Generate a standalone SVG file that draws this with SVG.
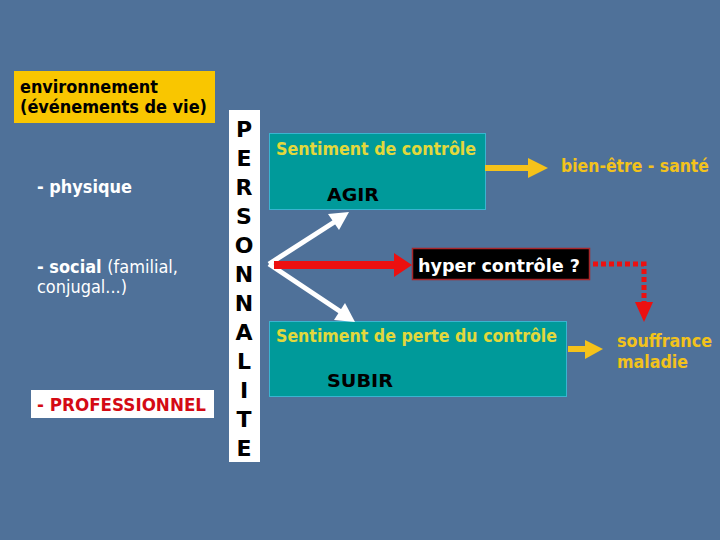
<svg xmlns="http://www.w3.org/2000/svg" width="720" height="540" viewBox="0 0 720 540">
<defs>
<style>
text{font-family:"DejaVu Sans","Liberation Sans",sans-serif;font-weight:bold;}
.blk{fill:#000;font-size:17px;}
.wht{fill:#fff;font-size:17px;}
.yel{fill:#f2c21c;font-size:17px;}
.iny{fill:#e2d83c;font-size:17px;}
.let{fill:#000;font-size:22px;text-anchor:middle;}
.teal{fill:#009a9a;stroke:#3ab4d0;stroke-width:1;}
</style>
</defs>
<rect x="0" y="0" width="720" height="540" fill="#4f7199"/>
<g id="environnement">
<rect x="14" y="71" width="201" height="52" fill="#f9c600"/>
<text class="blk" x="20" y="93" textLength="138" lengthAdjust="spacingAndGlyphs">environnement</text>
<text class="blk" x="20" y="113" textLength="187" lengthAdjust="spacingAndGlyphs">(événements de vie)</text>
</g>
<g id="physique">
<text class="wht" x="37" y="193" textLength="95" lengthAdjust="spacingAndGlyphs">- physique</text>
</g>
<g id="social">
<text class="wht" x="37" y="273" textLength="141" lengthAdjust="spacingAndGlyphs">- social <tspan font-weight="normal" style="font-weight:normal">(familial,</tspan></text>
<text class="wht" x="37" y="293" style="font-weight:normal" textLength="90" lengthAdjust="spacingAndGlyphs">conjugal...)</text>
</g>
<g id="professionnel">
<rect x="31" y="390" width="183" height="28" fill="#fff"/>
<text x="37" y="411" fill="#d40a14" font-size="17" textLength="169" lengthAdjust="spacingAndGlyphs">- PROFESSIONNEL</text>
</g>
<g id="personnalite">
<rect x="229" y="110" width="31" height="352" fill="#fff"/>
<text class="let" x="244" y="137">P</text>
<text class="let" x="244" y="166">E</text>
<text class="let" x="244" y="195">R</text>
<text class="let" x="244" y="224">S</text>
<text class="let" x="244" y="253">O</text>
<text class="let" x="244" y="282">N</text>
<text class="let" x="244" y="311">N</text>
<text class="let" x="244" y="340">A</text>
<text class="let" x="244" y="369">L</text>
<text class="let" x="244" y="398">I</text>
<text class="let" x="244" y="427">T</text>
<text class="let" x="244" y="456">E</text>
</g>
<g id="controle">
<rect class="teal" x="269.5" y="133.5" width="216" height="76"/>
<text class="iny" x="276" y="155" textLength="200" lengthAdjust="spacingAndGlyphs">Sentiment de contrôle</text>
<text class="blk" x="327" y="201" textLength="52" lengthAdjust="spacingAndGlyphs">AGIR</text>
</g>
<g id="perte">
<rect class="teal" x="269.5" y="321.5" width="297" height="75"/>
<text class="iny" x="276" y="342" textLength="281" lengthAdjust="spacingAndGlyphs">Sentiment de perte du contrôle</text>
<text class="blk" x="327" y="387" textLength="66" lengthAdjust="spacingAndGlyphs">SUBIR</text>
</g>
<g id="hyper">
<rect x="412.5" y="248.5" width="177" height="31" fill="#000" stroke="#a8262a" stroke-width="1.5"/>
<text class="wht" x="418" y="272" style="font-size:18px" textLength="162" lengthAdjust="spacingAndGlyphs">hyper contrôle ?</text>
</g>
<g id="bienetre">
<text class="yel" x="561" y="172" textLength="148" lengthAdjust="spacingAndGlyphs">bien-être - santé</text>
</g>
<g id="souffrance">
<text class="yel" x="617" y="347" textLength="95" lengthAdjust="spacingAndGlyphs">souffrance</text>
<text class="yel" x="617" y="368" textLength="71" lengthAdjust="spacingAndGlyphs">maladie</text>
</g>
<g id="connectors">
<line x1="269" y1="264" x2="336" y2="221" stroke="#fff" stroke-width="5"/>
<polygon points="349,212 328,214 339,230" fill="#fff"/>
<line x1="269" y1="264" x2="341" y2="312" stroke="#fff" stroke-width="5"/>
<polygon points="355,322 334,320 345,303" fill="#fff"/>
<line x1="274" y1="265" x2="396" y2="265" stroke="#ec1010" stroke-width="8"/>
<polygon points="394,253 412,265 394,277" fill="#ec1010"/>
<line x1="485" y1="168" x2="530" y2="168" stroke="#f5c21a" stroke-width="6"/>
<polygon points="528,158 548,168 528,178" fill="#f5c21a"/>
<line x1="568" y1="349" x2="587" y2="349" stroke="#f5c21a" stroke-width="6"/>
<polygon points="585,340 603,349 585,359" fill="#f5c21a"/>
<polyline points="593,264 644,264 644,302" fill="none" stroke="#ec1010" stroke-width="5" stroke-dasharray="5,3"/>
<polygon points="635,302 653,302 644,322" fill="#ec1010"/>
</g>
</svg>
